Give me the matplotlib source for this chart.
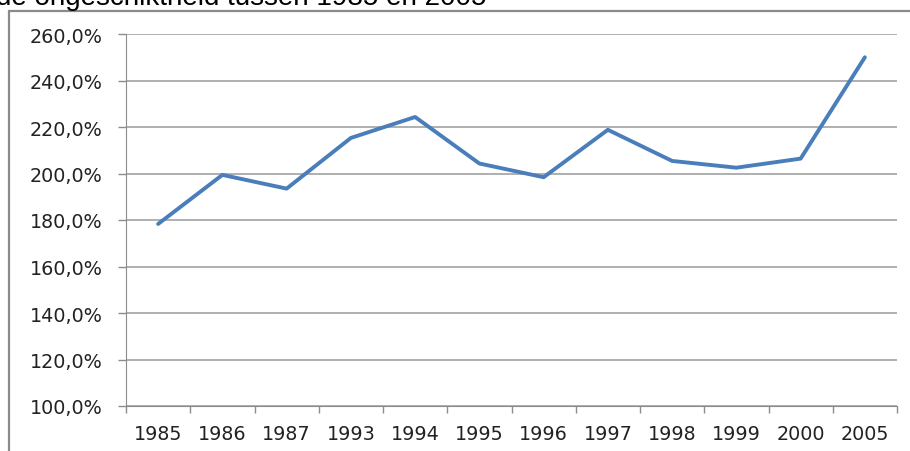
import matplotlib.pyplot as plt
from matplotlib.patches import Rectangle
from matplotlib.ticker import FuncFormatter

# Data
jaren = ['1985', '1986', '1987', '1993', '1994', '1995', '1996', '1997', '1998', '1999', '2000', '2005']
percentage = [178.3, 199.4, 193.5, 215.3, 224.3, 204.3, 198.4, 218.8, 205.4, 202.5, 206.4, 250.0]

fig = plt.figure(figsize=(9.1, 4.52), dpi=100)
ax = fig.add_axes([126 / 910, 1 - 407 / 452, (897 - 126) / 910, (407 - 35) / 452])

# Lijn
x = list(range(len(jaren)))
ax.plot(x, percentage, color='#4a7ebb', linewidth=2.8, solid_capstyle='round', solid_joinstyle='round', zorder=3)

# Assen
ax.set_ylim(100, 260)
ax.set_xlim(-0.5, len(jaren) - 0.5)
ax.set_yticks(range(100, 261, 20))
ax.yaxis.set_major_formatter(FuncFormatter(lambda v, p: f'{v:.1f}%'.replace('.', ',')))
ax.set_xticks([i - 0.5 for i in range(len(jaren) + 1)])
ax.set_xticklabels([])
ax.set_xticks(x, minor=True)
ax.set_xticklabels(jaren, minor=True)
ax.tick_params(axis='x', which='minor', length=0, pad=13, labelsize=13.8, labelcolor='#222222')
ax.tick_params(axis='x', which='major', length=5, color='#8c8c8c', width=1)
ax.tick_params(axis='y', length=6, color='#8c8c8c', width=1, pad=11, labelsize=13.8, labelcolor='#222222')

# Rasterlijnen
ax.grid(axis='y', color='#9a9a9a', linewidth=1.1)
ax.set_axisbelow(True)
for s in ['top', 'right']:
    ax.spines[s].set_visible(False)
ax.spines['left'].set_color('#8c8c8c')
ax.spines['bottom'].set_color('#8c8c8c')

# Kader rond de grafiek
fig.patches.append(Rectangle((9 / 910, -0.1), 1.2, 1.1 - 12 / 452, transform=fig.transFigure,
                             fill=False, edgecolor='#8a8a8a', linewidth=1.6))

# Titel (afgesneden aan de bovenkant)
fig.text(-0.004, 1 - 5 / 452, 'de ongeschiktheid tussen 1985 en 2005', fontsize=20,
         family='Liberation Sans', va='baseline', ha='left', color='black')

fig.savefig('out.png', dpi=100)
